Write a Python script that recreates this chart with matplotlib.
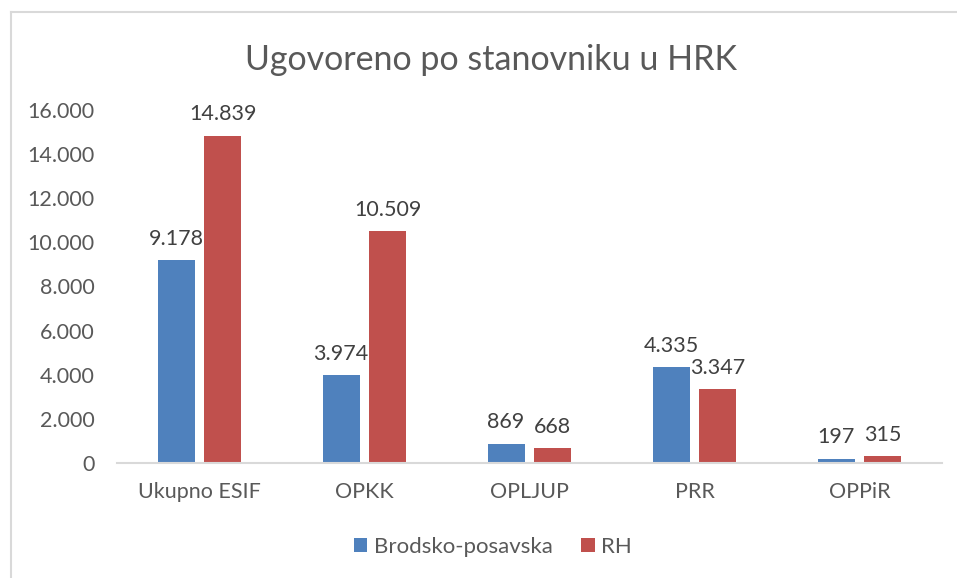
import matplotlib
matplotlib.use("Agg")
import matplotlib.pyplot as plt
from matplotlib.lines import Line2D
import numpy as np

categories = ["Ukupno ESIF", "OPKK", "OPLJUP", "PRR", "OPPiR"]
brodsko = [9178, 3974, 869, 4335, 197]
rh = [14839, 10509, 668, 3347, 315]
series_names = ["Brodsko-posavska", "RH"]
labels_b = ["9.178", "3.974", "869", "4.335", "197"]
labels_r = ["14.839", "10.509", "668", "3.347", "315"]
yticks = [0, 2000, 4000, 6000, 8000, 10000, 12000, 14000, 16000]
ytick_labels = ["0", "2.000", "4.000", "6.000", "8.000", "10.000", "12.000", "14.000", "16.000"]

plt.rcParams['font.family'] = ['Lato', 'DejaVu Sans']
txt = "#595959"
blue = "#4F81BD"
red = "#C0504D"

fig = plt.figure(figsize=(9.57, 5.78), dpi=100)
ax = fig.add_axes([0.1223, 0.199, 0.862, 0.6107])

x = np.arange(len(categories))
w = 0.224
off = 0.142
bb = ax.bar(x - off, brodsko, w, color=blue, label=series_names[0])
br = ax.bar(x + off, rh, w, color=red, label=series_names[1])

for xi, v, l in zip(x, brodsko, labels_b):
    ax.text(xi - off, v + 520, l, ha="center", va="bottom", fontsize=15.5, color="#404040")
for xi, v, l in zip(x, rh, labels_r):
    ax.text(xi + off, v + 520, l, ha="center", va="bottom", fontsize=15.5, color="#404040")

ax.set_xlim(-0.5, len(categories) - 0.5)
ax.set_ylim(0, 16000)
ax.set_yticks(yticks)
ax.set_yticklabels(ytick_labels)
ax.set_xticks(x)
ax.set_xticklabels(categories)
ax.tick_params(axis="both", length=0, labelsize=15.5, colors=txt)
ax.tick_params(axis="y", pad=16)
ax.tick_params(axis="x", pad=14)
for s in ["top", "right", "left"]:
    ax.spines[s].set_visible(False)
ax.spines["bottom"].set_color("#D9D9D9")
ax.spines["bottom"].set_linewidth(1.5)

fig.text(0.513, 0.897, "Ugovoreno po stanovniku u HRK", ha="center", va="center", fontsize=24.5, color=txt)

leg = fig.legend(handles=[bb, br], labels=series_names, loc="center", bbox_to_anchor=(0.515, 0.054),
                 ncol=2, frameon=False, fontsize=16, handlelength=0.6, handleheight=0.6,
                 handletextpad=0.3, columnspacing=1.3, labelcolor=txt)

# chart border (left and top visible)
fig.add_artist(Line2D([0.0115, 0.0115], [0.0, 0.979], transform=fig.transFigure, color="#D9D9D9", lw=1.5))
fig.add_artist(Line2D([0.0115, 1.0], [0.979, 0.979], transform=fig.transFigure, color="#D9D9D9", lw=1.5))

fig.savefig("out.png", dpi=100)
